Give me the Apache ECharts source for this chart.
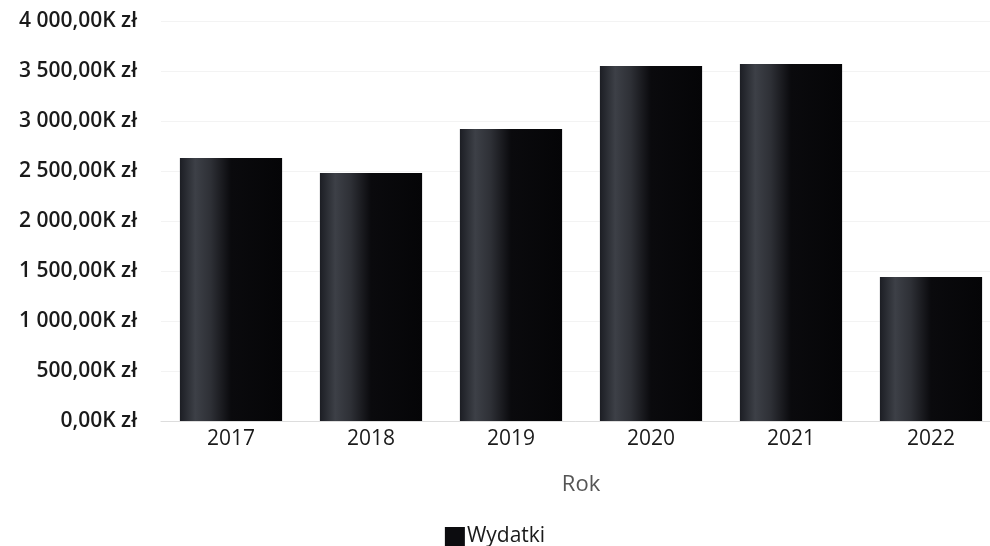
<!DOCTYPE html>
<html>
<head>
<meta charset="utf-8">
<script src="https://cdn.jsdelivr.net/npm/echarts@6/dist/echarts.min.js"></script>
<style>html,body{margin:0;padding:0;background:#fff;}#c{width:990px;height:546px;}</style>
</head>
<body>
<div id="c"></div>
<script>
const categories = ['2017', '2018', '2019', '2020', '2021', '2022'];
const wydatki = [2630, 2480, 2920, 3550, 3570, 1440];
const seriesName = 'Wydatki';
const axisName = 'Rok';

function fmt(v) {
  const s = v.toFixed(2).split('.');
  const intPart = s[0].replace(/\B(?=(\d{3})+(?!\d))/g, ' ');
  return intPart + ',' + s[1] + 'K zł';
}

const chart = echarts.init(document.getElementById('c'));
chart.setOption({
  backgroundColor: '#fff',
  animation: false,
  textStyle: { fontFamily: 'Open Sans' },
  grid: { left: 161, width: 840, top: 21, bottom: 125, containLabel: false, outerBoundsMode: 'none' },
  legend: {
    top: 521, left: 'center',
    itemWidth: 20, itemHeight: 19, itemGap: 6,
    icon: 'rect',
    itemStyle: { color: '#0c0c0f' },
    textStyle: { fontSize: 21, color: '#1a1a1a', fontFamily: 'Open Sans', padding: [0, 0, 0, -3] },
    data: [seriesName]
  },
  xAxis: {
    type: 'category',
    data: categories,
    name: axisName,
    nameLocation: 'middle',
    nameGap: 53,
    nameTextStyle: { fontSize: 22, color: '#555' },
    axisLine: { lineStyle: { color: '#ddd' } },
    axisTick: { show: false },
    axisLabel: { fontSize: 21, color: '#1a1a1a', margin: 8, fontWeight: 500 }
  },
  yAxis: {
    type: 'value',
    min: 0, max: 4000, interval: 500,
    axisLine: { show: false },
    axisTick: { show: false },
    splitLine: { lineStyle: { color: '#f3f3f3' } },
    axisLabel: { fontSize: 21, color: '#1a1a1a', margin: 24, formatter: fmt, fontWeight: 600 }
  },
  series: [{
    name: seriesName,
    type: 'bar',
    data: wydatki,
    barCategoryGap: '27%',
    itemStyle: {
      color: new echarts.graphic.LinearGradient(0, 0, 1, 0, [
        { offset: 0, color: '#1c1e24' },
        { offset: 0.15, color: '#3d4047' },
        { offset: 0.3, color: '#2e3036' },
        { offset: 0.5, color: '#0a0a0d' },
        { offset: 1, color: '#050507' }
      ])
    }
  }]
});
</script>
</body>
</html>
